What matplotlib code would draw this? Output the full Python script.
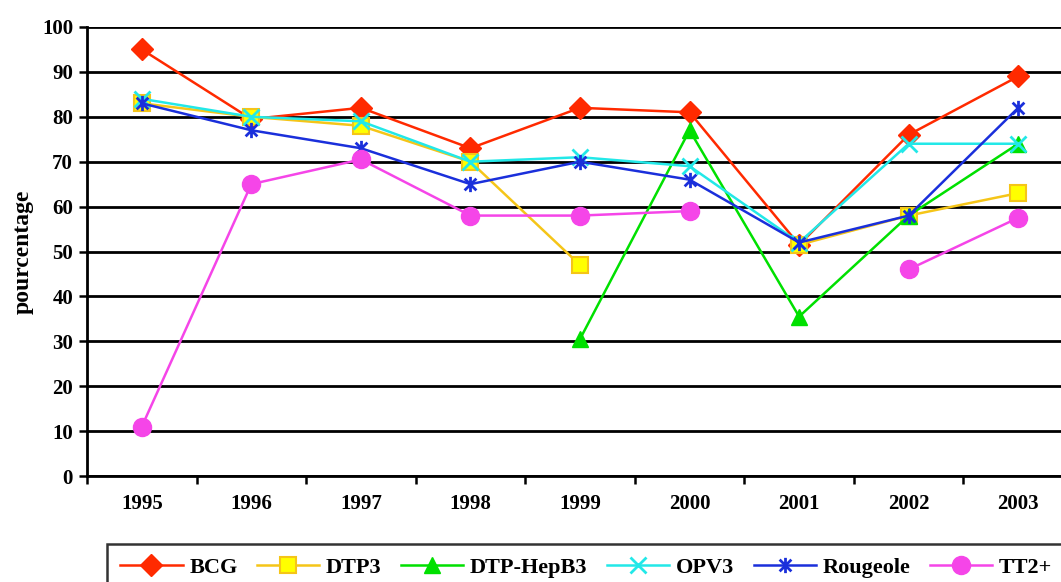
import numpy as np
import matplotlib
matplotlib.use('Agg')
import matplotlib.pyplot as plt
from matplotlib.path import Path

nan = np.nan

# Years and coverage (%) per vaccine
years = ['1995', '1996', '1997', '1998', '1999', '2000', '2001', '2002', '2003']
bcg = [95, 79.5, 82, 73, 82, 81, 51.5, 76, 89]
dtp3 = [83, 80, 78, 70, 47, nan, 51.5, 58, 63]
dtp_hepb3 = [nan, nan, nan, nan, 30.5, 77, 35.5, 58, 74]
opv3 = [84, 80, 79, 70, 71, 69, 52, 74, 74]
rougeole = [83, 77, 73, 65, 70, 66, 52, 58, 82]
tt2 = [11, 65, 70.5, 58, 58, 59, nan, 46, 57.5]

plt.rcParams['font.family'] = ['Liberation Serif', 'DejaVu Serif']
plt.rcParams['font.weight'] = 'bold'

# Excel-like "star" marker: x with a vertical bar
star = Path([(-1, -1), (1, 1), (-1, 1), (1, -1), (0, -1.3), (0, 1.3)],
            [Path.MOVETO, Path.LINETO, Path.MOVETO, Path.LINETO, Path.MOVETO, Path.LINETO])

W, H = 1061, 582
fig = plt.figure(figsize=(W / 100, H / 100), dpi=100)
left, right, top, bottom = 87, 1073, 27, 476
ax = fig.add_axes([left / W, 1 - bottom / H, (right - left) / W, (bottom - top) / H])

x = np.arange(len(years))
lw = 1.8
series = [
    (bcg, 'BCG', dict(color='#FF2A00', marker='D', ms=11, mfc='#FF2A00', mec='#FF2A00')),
    (dtp3, 'DTP3', dict(color='#F5C518', marker='s', ms=11, mfc='#FFFF00', mec='#F5C518', mew=1.5)),
    (dtp_hepb3, 'DTP-HepB3', dict(color='#00E000', marker='^', ms=12, mfc='#00E000', mec='#00E000')),
    (opv3, 'OPV3', dict(color='#22E8E8', marker='x', ms=11, mec='#22E8E8', mew=2)),
    (rougeole, 'Rougeole', dict(color='#1A2FDB', marker=star, ms=11, mec='#1A2FDB', mew=2)),
    (tt2, 'TT2+', dict(color='#F545E8', marker='o', ms=13, mfc='#F545E8', mec='#F545E8')),
]
for vals, name, kw in series:
    ax.plot(x, vals, lw=lw, label=name, clip_on=False, zorder=3, **kw)

ax.set_xlim(-0.5, len(years) - 0.5)
ax.set_ylim(0, 100)
ax.set_yticks(np.arange(0, 101, 10))
ax.yaxis.grid(True, color='black', lw=2.0)
ax.set_axisbelow(True)

ax.set_xticks(np.arange(-0.5, len(years), 1.0))
ax.set_xticklabels([])
ax.set_xticks(x, minor=True)
ax.set_xticklabels(years, minor=True, fontsize=15, fontweight='bold')
ax.tick_params(axis='x', which='minor', length=0, pad=13)
ax.tick_params(axis='x', which='major', length=6, width=1.8, direction='out')
ax.tick_params(axis='y', length=6, width=1.8, direction='out', labelsize=15, pad=4)

for s in ['top', 'right']:
    ax.spines[s].set_visible(False)
for s in ['left', 'bottom']:
    ax.spines[s].set_linewidth(2.0)

ax.set_ylabel('pourcentage', fontsize=17, fontweight='bold', labelpad=6)

leg = fig.legend(loc='upper left', bbox_to_anchor=(107 / W, 1 - 544 / H), ncol=6,
                 frameon=True, fancybox=False, edgecolor='black', fontsize=16,
                 handlelength=2.8, columnspacing=0.88, handletextpad=0.3,
                 borderpad=0.6, borderaxespad=0)
leg.get_frame().set_linewidth(1.8)

fig.savefig('out.png', dpi=100)
